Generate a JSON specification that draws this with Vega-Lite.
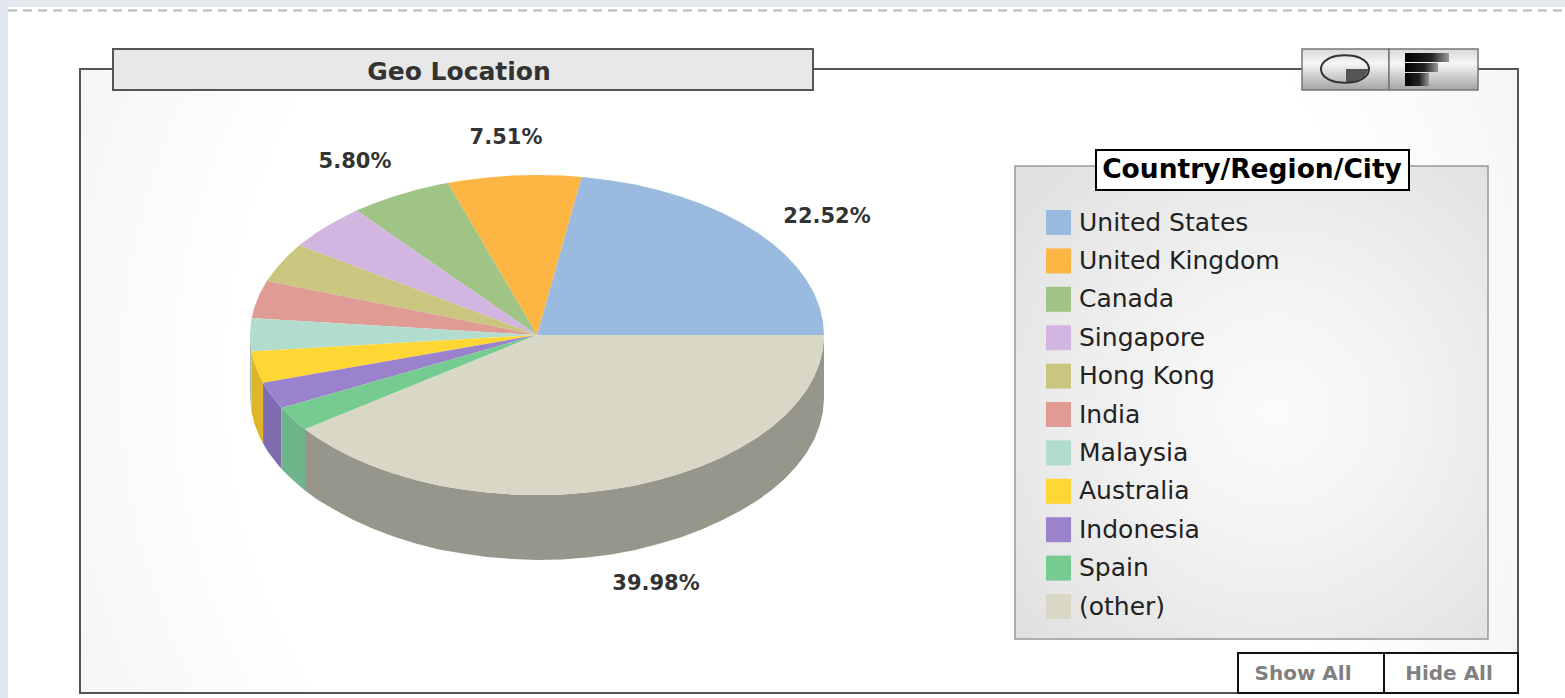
{"$schema":"https://vega.github.io/schema/vega-lite/v6.json","width":1565,"height":698,"padding":0,"autosize":{"type":"none"},"background":"#e2e8ed","config":{"view":{"stroke":null}},
"datasets":{
"top":[
{"s":"United States","i":0,"x":537,"y":335},{"s":"United States","i":1,"x":824,"y":335},{"s":"United States","i":2,"x":822.9,"y":321.1},{"s":"United States","i":3,"x":819.6,"y":307.2},{"s":"United States","i":4,"x":814.2,"y":293.6},{"s":"United States","i":5,"x":806.7,"y":280.3},{"s":"United States","i":6,"x":797.1,"y":267.4},{"s":"United States","i":7,"x":785.5,"y":255},{"s":"United States","i":8,"x":772.1,"y":243.2},{"s":"United States","i":9,"x":756.9,"y":232.2},{"s":"United States","i":10,"x":739.9,"y":221.9},{"s":"United States","i":11,"x":721.5,"y":212.4},{"s":"United States","i":12,"x":701.6,"y":203.9},{"s":"United States","i":13,"x":680.5,"y":196.4},{"s":"United States","i":14,"x":658.3,"y":190},{"s":"United States","i":15,"x":635.2,"y":184.6},{"s":"United States","i":16,"x":611.3,"y":180.5},{"s":"United States","i":17,"x":586.8,"y":177.4},{"s":"United States","i":18,"x":581.5,"y":176.9},
{"s":"United Kingdom","i":0,"x":537,"y":335},{"s":"United Kingdom","i":1,"x":581.5,"y":176.9},{"s":"United Kingdom","i":2,"x":562,"y":175.6},{"s":"United Kingdom","i":3,"x":537,"y":175},{"s":"United Kingdom","i":4,"x":512,"y":175.6},{"s":"United Kingdom","i":5,"x":487.2,"y":177.4},{"s":"United Kingdom","i":6,"x":462.7,"y":180.5},{"s":"United Kingdom","i":7,"x":447.8,"y":182.9},
{"s":"Canada","i":0,"x":537,"y":335},{"s":"Canada","i":1,"x":447.8,"y":182.9},{"s":"Canada","i":2,"x":438.8,"y":184.6},{"s":"Canada","i":3,"x":415.7,"y":190},{"s":"Canada","i":4,"x":393.5,"y":196.4},{"s":"Canada","i":5,"x":372.4,"y":203.9},{"s":"Canada","i":6,"x":356.4,"y":210.6},
{"s":"Singapore","i":0,"x":537,"y":335},{"s":"Singapore","i":1,"x":356.4,"y":210.6},{"s":"Singapore","i":2,"x":352.5,"y":212.4},{"s":"Singapore","i":3,"x":334.1,"y":221.9},{"s":"Singapore","i":4,"x":317.1,"y":232.2},{"s":"Singapore","i":5,"x":301.9,"y":243.2},{"s":"Singapore","i":6,"x":299.3,"y":245.3},
{"s":"Hong Kong","i":0,"x":537,"y":335},{"s":"Hong Kong","i":1,"x":299.3,"y":245.3},{"s":"Hong Kong","i":2,"x":288.5,"y":255},{"s":"Hong Kong","i":3,"x":276.9,"y":267.4},{"s":"Hong Kong","i":4,"x":267.3,"y":280.3},{"s":"Hong Kong","i":5,"x":266.8,"y":281.1},
{"s":"India","i":0,"x":537,"y":335},{"s":"India","i":1,"x":266.8,"y":281.1},{"s":"India","i":2,"x":259.8,"y":293.6},{"s":"India","i":3,"x":254.4,"y":307.2},{"s":"India","i":4,"x":251.6,"y":318.2},
{"s":"Malaysia","i":0,"x":537,"y":335},{"s":"Malaysia","i":1,"x":251.6,"y":318.2},{"s":"Malaysia","i":2,"x":251.1,"y":321.1},{"s":"Malaysia","i":3,"x":250,"y":335},{"s":"Malaysia","i":4,"x":251.1,"y":348.9},{"s":"Malaysia","i":5,"x":251.5,"y":351.4},
{"s":"Australia","i":0,"x":537,"y":335},{"s":"Australia","i":1,"x":251.5,"y":351.4},{"s":"Australia","i":2,"x":254.4,"y":362.8},{"s":"Australia","i":3,"x":259.8,"y":376.4},{"s":"Australia","i":4,"x":263.1,"y":382.8},
{"s":"Indonesia","i":0,"x":537,"y":335},{"s":"Indonesia","i":1,"x":263.1,"y":382.8},{"s":"Indonesia","i":2,"x":267.3,"y":389.7},{"s":"Indonesia","i":3,"x":276.9,"y":402.6},{"s":"Indonesia","i":4,"x":281.5,"y":407.9},
{"s":"Spain","i":0,"x":537,"y":335},{"s":"Spain","i":1,"x":281.5,"y":407.9},{"s":"Spain","i":2,"x":288.5,"y":415},{"s":"Spain","i":3,"x":301.9,"y":426.8},{"s":"Spain","i":4,"x":305,"y":429.2},
{"s":"(other)","i":0,"x":537,"y":335},{"s":"(other)","i":1,"x":305,"y":429.2},{"s":"(other)","i":2,"x":317.1,"y":437.8},{"s":"(other)","i":3,"x":334.1,"y":448.1},{"s":"(other)","i":4,"x":352.5,"y":457.6},{"s":"(other)","i":5,"x":372.4,"y":466.1},{"s":"(other)","i":6,"x":393.5,"y":473.6},{"s":"(other)","i":7,"x":415.7,"y":480},{"s":"(other)","i":8,"x":438.8,"y":485.4},{"s":"(other)","i":9,"x":462.7,"y":489.5},{"s":"(other)","i":10,"x":487.2,"y":492.6},{"s":"(other)","i":11,"x":512,"y":494.4},{"s":"(other)","i":12,"x":537,"y":495},{"s":"(other)","i":13,"x":562,"y":494.4},{"s":"(other)","i":14,"x":586.8,"y":492.6},{"s":"(other)","i":15,"x":611.3,"y":489.5},{"s":"(other)","i":16,"x":635.2,"y":485.4},{"s":"(other)","i":17,"x":658.3,"y":480},{"s":"(other)","i":18,"x":680.5,"y":473.6},{"s":"(other)","i":19,"x":701.6,"y":466.1},{"s":"(other)","i":20,"x":721.5,"y":457.6},{"s":"(other)","i":21,"x":739.9,"y":448.1},{"s":"(other)","i":22,"x":756.9,"y":437.8},{"s":"(other)","i":23,"x":772.1,"y":426.8},{"s":"(other)","i":24,"x":785.5,"y":415},{"s":"(other)","i":25,"x":797.1,"y":402.6},{"s":"(other)","i":26,"x":806.7,"y":389.7},{"s":"(other)","i":27,"x":814.2,"y":376.4},{"s":"(other)","i":28,"x":819.6,"y":362.8},{"s":"(other)","i":29,"x":822.9,"y":348.9},{"s":"(other)","i":30,"x":824,"y":335}
],
"wall":[
{"s":"Malaysia","i":0,"x":250,"y":335},{"s":"Malaysia","i":1,"x":251.1,"y":348.9},{"s":"Malaysia","i":2,"x":251.5,"y":351.4},{"s":"Malaysia","i":3,"x":251.5,"y":412},{"s":"Malaysia","i":4,"x":251.1,"y":409.5},{"s":"Malaysia","i":5,"x":250,"y":396},
{"s":"Australia","i":0,"x":251.5,"y":351.4},{"s":"Australia","i":1,"x":254.4,"y":362.8},{"s":"Australia","i":2,"x":259.8,"y":376.4},{"s":"Australia","i":3,"x":263.1,"y":382.8},{"s":"Australia","i":4,"x":263.1,"y":443.5},{"s":"Australia","i":5,"x":259.8,"y":437.4},{"s":"Australia","i":6,"x":254.4,"y":423.8},{"s":"Australia","i":7,"x":251.5,"y":412},
{"s":"Indonesia","i":0,"x":263.1,"y":382.8},{"s":"Indonesia","i":1,"x":267.3,"y":389.7},{"s":"Indonesia","i":2,"x":276.9,"y":402.6},{"s":"Indonesia","i":3,"x":281.5,"y":407.9},{"s":"Indonesia","i":4,"x":281.5,"y":469},{"s":"Indonesia","i":5,"x":276.9,"y":463.6},{"s":"Indonesia","i":6,"x":267.3,"y":450.7},{"s":"Indonesia","i":7,"x":263.1,"y":443.5},
{"s":"Spain","i":0,"x":281.5,"y":407.9},{"s":"Spain","i":1,"x":288.5,"y":415},{"s":"Spain","i":2,"x":301.9,"y":426.8},{"s":"Spain","i":3,"x":305,"y":429.2},{"s":"Spain","i":4,"x":305,"y":490.5},{"s":"Spain","i":5,"x":301.9,"y":488},{"s":"Spain","i":6,"x":288.5,"y":476},{"s":"Spain","i":7,"x":281.5,"y":469},
{"s":"(other)","i":0,"x":305,"y":429.2},{"s":"(other)","i":1,"x":317.1,"y":437.8},{"s":"(other)","i":2,"x":334.1,"y":448.1},{"s":"(other)","i":3,"x":352.5,"y":457.6},{"s":"(other)","i":4,"x":372.4,"y":466.1},{"s":"(other)","i":5,"x":393.5,"y":473.6},{"s":"(other)","i":6,"x":415.7,"y":480},{"s":"(other)","i":7,"x":438.8,"y":485.4},{"s":"(other)","i":8,"x":462.7,"y":489.5},{"s":"(other)","i":9,"x":487.2,"y":492.6},{"s":"(other)","i":10,"x":512,"y":494.4},{"s":"(other)","i":11,"x":537,"y":495},{"s":"(other)","i":12,"x":562,"y":494.4},{"s":"(other)","i":13,"x":586.8,"y":492.6},{"s":"(other)","i":14,"x":611.3,"y":489.5},{"s":"(other)","i":15,"x":635.2,"y":485.4},{"s":"(other)","i":16,"x":658.3,"y":480},{"s":"(other)","i":17,"x":680.5,"y":473.6},{"s":"(other)","i":18,"x":701.6,"y":466.1},{"s":"(other)","i":19,"x":721.5,"y":457.6},{"s":"(other)","i":20,"x":739.9,"y":448.1},{"s":"(other)","i":21,"x":756.9,"y":437.8},{"s":"(other)","i":22,"x":772.1,"y":426.8},{"s":"(other)","i":23,"x":785.5,"y":415},{"s":"(other)","i":24,"x":797.1,"y":402.6},{"s":"(other)","i":25,"x":806.7,"y":389.7},{"s":"(other)","i":26,"x":814.2,"y":376.4},{"s":"(other)","i":27,"x":819.6,"y":362.8},{"s":"(other)","i":28,"x":822.9,"y":348.9},{"s":"(other)","i":29,"x":824,"y":335},{"s":"(other)","i":30,"x":824,"y":398},{"s":"(other)","i":31,"x":822.9,"y":411.9},{"s":"(other)","i":32,"x":819.6,"y":425.8},{"s":"(other)","i":33,"x":814.2,"y":439.4},{"s":"(other)","i":34,"x":806.7,"y":452.7},{"s":"(other)","i":35,"x":797.1,"y":465.6},{"s":"(other)","i":36,"x":785.5,"y":478},{"s":"(other)","i":37,"x":772.1,"y":489.8},{"s":"(other)","i":38,"x":756.9,"y":500.8},{"s":"(other)","i":39,"x":739.9,"y":511.1},{"s":"(other)","i":40,"x":721.5,"y":520.6},{"s":"(other)","i":41,"x":701.6,"y":529.6},{"s":"(other)","i":42,"x":680.5,"y":537.4},{"s":"(other)","i":43,"x":658.3,"y":544},{"s":"(other)","i":44,"x":635.2,"y":550},{"s":"(other)","i":45,"x":611.3,"y":554.5},{"s":"(other)","i":46,"x":586.8,"y":557.6},{"s":"(other)","i":47,"x":562,"y":559.4},{"s":"(other)","i":48,"x":537,"y":560},{"s":"(other)","i":49,"x":512,"y":559},{"s":"(other)","i":50,"x":487.2,"y":557},{"s":"(other)","i":51,"x":462.7,"y":553.5},{"s":"(other)","i":52,"x":438.8,"y":549.5},{"s":"(other)","i":53,"x":415.7,"y":543.5},{"s":"(other)","i":54,"x":393.5,"y":536.6},{"s":"(other)","i":55,"x":372.4,"y":528.5},{"s":"(other)","i":56,"x":352.5,"y":519.6},{"s":"(other)","i":57,"x":334.1,"y":509.6},{"s":"(other)","i":58,"x":317.1,"y":499.5},{"s":"(other)","i":59,"x":305,"y":490.5}
]
},
"encoding":{"x":{"field":"x","type":"quantitative","axis":null,"scale":{"domain":[0,1565],"nice":false,"zero":false}},"y":{"field":"y","type":"quantitative","axis":null,"scale":{"domain":[0,698],"nice":false,"zero":false,"reverse":true}}},
"layer":[
{"data":{"values":[{"x":8,"x2":1565,"y":7,"y2":698}]},"mark":{"type":"rect","fill":"#ffffff"},"encoding":{"x2":{"field":"x2"},"y2":{"field":"y2"}}},
{"data":{"values":[{"x":8,"x2":1565,"y":10.5}]},"mark":{"type":"rule","stroke":"#b4b8bc","strokeWidth":2,"strokeDash":[9,6]},"encoding":{"x2":{"field":"x2"}}},
{"data":{"values":[{"x":80,"x2":1518,"y":69,"y2":693}]},"mark":{"type":"rect","stroke":"#555555","strokeWidth":2,"fill":{"gradient":"radial","x1":0.5,"y1":0.5,"x2":0.5,"y2":0.5,"r1":0,"r2":0.72,"stops":[{"offset":0,"color":"#ffffff"},{"offset":0.55,"color":"#ffffff"},{"offset":0.72,"color":"#f7f7f7"},{"offset":1,"color":"#ebebeb"}]}},"encoding":{"x2":{"field":"x2"},"y2":{"field":"y2"}}},
{"data":{"values":[{"x":113,"x2":813,"y":49,"y2":90}]},"mark":{"type":"rect","fill":"#e8e8e8","stroke":"#555555","strokeWidth":2},"encoding":{"x2":{"field":"x2"},"y2":{"field":"y2"}}},
{"data":{"values":[{"x":1302,"x2":1389,"y":49,"y2":90},{"x":1389,"x2":1478,"y":49,"y2":90}]},"mark":{"type":"rect","stroke":"#777777","strokeWidth":1.5,"fill":{"gradient":"linear","x1":0,"y1":0,"x2":0,"y2":1,"stops":[{"offset":0,"color":"#d8d8d8"},{"offset":0.35,"color":"#f6f6f6"},{"offset":1,"color":"#a4a4a4"}]}},"encoding":{"x2":{"field":"x2"},"y2":{"field":"y2"}}},
{"data":{"values":[{"x":1405,"x2":1449,"y":53,"y2":62},{"x":1405,"x2":1438,"y":63,"y2":72},{"x":1405,"x2":1429,"y":73,"y2":86}]},"mark":{"type":"rect","fill":{"gradient":"linear","x1":0,"y1":0,"x2":1,"y2":0,"stops":[{"offset":0,"color":"#000000"},{"offset":0.6,"color":"#222222"},{"offset":1,"color":"#999999"}]}},"encoding":{"x2":{"field":"x2"},"y2":{"field":"y2"}}},
{"data":{"values":[{"i":0,"x":1346,"y":69},{"i":1,"x":1369,"y":69},{"i":2,"x":1364,"y":77},{"i":3,"x":1352,"y":82},{"i":4,"x":1346,"y":82}]},"mark":{"type":"line","filled":true,"interpolate":"linear-closed","fill":"#555555","strokeWidth":0},"encoding":{"order":{"field":"i"}}},
{"data":{"values":[{"i":0,"x":1321,"y":69},{"i":1,"x":1325,"y":61},{"i":2,"x":1336,"y":56},{"i":3,"x":1354,"y":56},{"i":4,"x":1365,"y":61},{"i":5,"x":1369,"y":69},{"i":6,"x":1365,"y":77},{"i":7,"x":1354,"y":82},{"i":8,"x":1336,"y":82},{"i":9,"x":1325,"y":77}]},"mark":{"type":"line","interpolate":"cardinal-closed","stroke":"#333333","strokeWidth":2},"encoding":{"order":{"field":"i"}}},
{"data":{"values":[{"x":1015,"x2":1488,"y":166,"y2":639}]},"mark":{"type":"rect","stroke":"#999999","strokeWidth":1.5,"fill":{"gradient":"radial","x1":0.55,"y1":0.52,"x2":0.55,"y2":0.52,"r1":0,"r2":0.72,"stops":[{"offset":0,"color":"#fbfbfb"},{"offset":0.35,"color":"#f4f4f4"},{"offset":1,"color":"#e0e0e0"}]}},"encoding":{"x2":{"field":"x2"},"y2":{"field":"y2"}}},
{"data":{"values":[{"x":1096,"x2":1409,"y":150,"y2":190}]},"mark":{"type":"rect","fill":"#ffffff","stroke":"#000000","strokeWidth":2},"encoding":{"x2":{"field":"x2"},"y2":{"field":"y2"}}},
{"data":{"values":[{"x":1238,"x2":1384,"y":653,"y2":693},{"x":1384,"x2":1518,"y":653,"y2":693}]},"mark":{"type":"rect","fill":"#ffffff","stroke":"#111111","strokeWidth":2},"encoding":{"x2":{"field":"x2"},"y2":{"field":"y2"}}},
{"data":{"name":"wall"},"mark":{"type":"line","filled":true,"interpolate":"linear-closed","strokeWidth":0},"encoding":{"order":{"field":"i"},"color":{"field":"s","type":"nominal","legend":null,"scale":{"domain":["Malaysia","Australia","Indonesia","Spain","(other)"],"range":["#a3bdb4","#dfb52a","#7f6cb0","#6fb58c","#97968b"]}}}},
{"data":{"name":"top"},"mark":{"type":"line","filled":true,"interpolate":"linear-closed","strokeWidth":0},"encoding":{"order":{"field":"i"},"color":{"field":"s","type":"nominal","scale":{"domain":["United States","United Kingdom","Canada","Singapore","Hong Kong","India","Malaysia","Australia","Indonesia","Spain","(other)"],"range":["#9abbdf","#fdb644","#a0c386","#d3b5e2","#c9c680","#e09b94","#b2dcce","#fed735","#9a82cc","#76cb91","#d9d8c6"]},"legend":{"title":null,"orient":"none","legendX":1046,"legendY":210,"zindex":1,"padding":0,"symbolType":"square","symbolSize":625,"symbolStrokeWidth":0,"symbolOpacity":1,"rowPadding":12.4,"labelOffset":8,"labelFont":"DejaVu Sans","labelFontSize":25,"labelColor":"#222222","labelLimit":300}}}},
{"data":{"values":[{"share":0.2252,"x":827,"y":217},{"share":0.0751,"x":506,"y":138},{"share":0.058,"x":355,"y":162},{"share":0.3998,"x":656,"y":584}]},"mark":{"type":"text","font":"DejaVu Sans","fontWeight":"bold","fontSize":21,"fill":"#333333","align":"center","baseline":"middle"},"encoding":{"text":{"field":"share","type":"quantitative","format":".2%"}}},
{"data":{"values":[{"t":"Geo Location","x":459,"y":72}]},"mark":{"type":"text","font":"DejaVu Sans","fontWeight":"bold","fontSize":25,"fill":"#333333","align":"center","baseline":"middle"},"encoding":{"text":{"field":"t"}}},
{"data":{"values":[{"t":"Country/Region/City","x":1252,"y":170}]},"mark":{"type":"text","font":"DejaVu Sans","fontWeight":"bold","fontSize":26.5,"fill":"#000000","align":"center","baseline":"middle"},"encoding":{"text":{"field":"t"}}},
{"data":{"values":[{"t":"Show All","x":1303,"y":674},{"t":"Hide All","x":1449,"y":674}]},"mark":{"type":"text","font":"DejaVu Sans","fontWeight":"bold","fontSize":20,"fill":"#808080","align":"center","baseline":"middle"},"encoding":{"text":{"field":"t"}}}
],
"resolve":{"scale":{"color":"independent"}}}
